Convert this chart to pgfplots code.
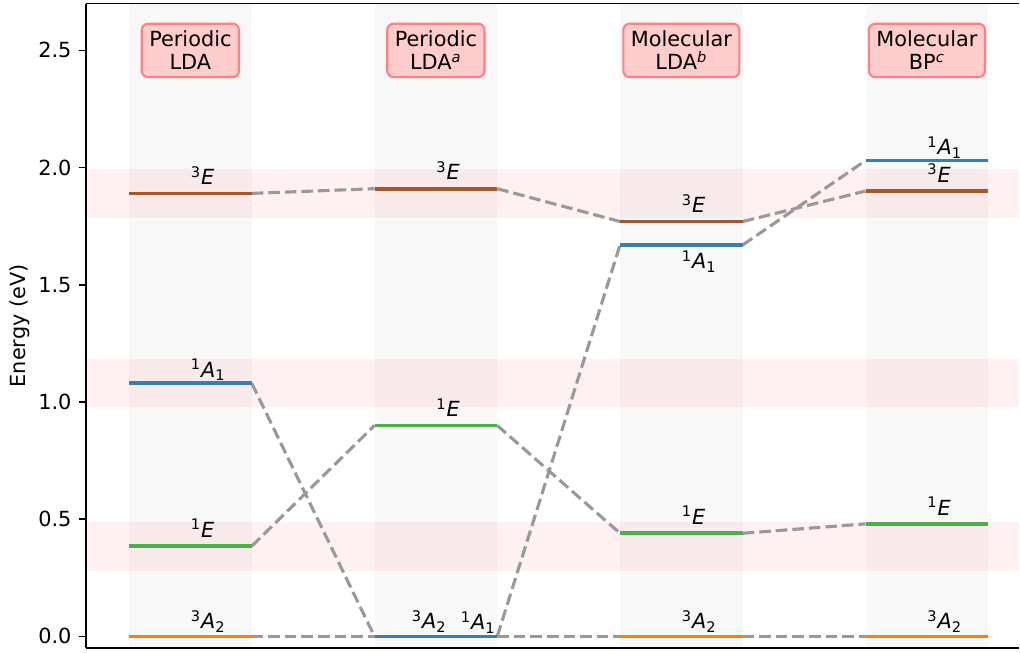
\documentclass[border=0pt]{standalone}
\usepackage{fontspec}
\setmainfont{DejaVu Sans}
\usepackage{pgfplots}
\pgfplotsset{compat=1.18}

\definecolor{cAone}{HTML}{377EB8}
\definecolor{cEthree}{HTML}{A65628}
\definecolor{cEone}{HTML}{4DAF4A}
\definecolor{cAtwo}{HTML}{FF7F00}
\definecolor{conn}{HTML}{999999}
\definecolor{boxfill}{HTML}{FFCCCC}
\definecolor{boxedge}{HTML}{FF8080}
\definecolor{colband}{HTML}{F8F8F8}

\newcommand{\tE}{\textsuperscript{3}\textit{E}}
\newcommand{\sE}{\textsuperscript{1}\textit{E}}
\newcommand{\tA}{\textsuperscript{3}\textit{A}\textsubscript{2}}
\newcommand{\sA}{\textsuperscript{1}\textit{A}\textsubscript{1}}

\begin{document}
\begin{tikzpicture}
\begin{axis}[
  scale only axis,
  width=447.8pt, height=309.4pt,
  xmin=-0.425, xmax=3.375,
  ymin=-0.05, ymax=2.7,
  axis on top,
  axis x line*=box, axis y line*=left,
  xtick=\empty,
  ytick={0,0.5,1,1.5,2,2.5},
  ytick pos=left,
  tick align=outside,
  major tick length=3.5pt,
  every tick/.style={black, line width=0.8pt},
  axis line style={line width=0.8pt},
  yticklabel style={/pgf/number format/.cd, fixed, fixed zerofill, precision=1, assume math mode=true},
  ticklabel style={font=\fontsize{10}{12}\selectfont},
  unbounded coords=jump,
  level/.style={line width=1.8pt, forget plot},
  link/.style={conn, line width=1.5pt, dash pattern=on 5.55pt off 2.4pt, forget plot},
]
% method columns
\addplot[fill=colband, draw=none] coordinates {(-0.25,-1) (0.25,-1) (0.25,3) (-0.25,3)};
\addplot[fill=colband, draw=none] coordinates {(0.75,-1) (1.25,-1) (1.25,3) (0.75,3)};
\addplot[fill=colband, draw=none] coordinates {(1.75,-1) (2.25,-1) (2.25,3) (1.75,3)};
\addplot[fill=colband, draw=none] coordinates {(2.75,-1) (3.25,-1) (3.25,3) (2.75,3)};
% reference bands
\addplot[fill=red, fill opacity=0.055, draw=none] coordinates {(-1,1.785) (4,1.785) (4,1.995) (-1,1.995)};
\addplot[fill=red, fill opacity=0.055, draw=none] coordinates {(-1,0.98) (4,0.98) (4,1.185) (-1,1.185)};
\addplot[fill=red, fill opacity=0.055, draw=none] coordinates {(-1,0.28) (4,0.28) (4,0.49) (-1,0.49)};

% connectors
\addplot[link] coordinates {(0.25,0) (0.75,0) (1,nan) (1.25,0) (1.75,0) (2,nan) (2.25,0) (2.75,0)};
\addplot[link] coordinates {(0.25,0.385) (0.75,0.90) (1,nan) (1.25,0.90) (1.75,0.44) (2,nan) (2.25,0.44) (2.75,0.48)};
\addplot[link] coordinates {(0.25,1.08) (0.75,0) (1,nan) (1.25,0) (1.75,1.67) (2,nan) (2.25,1.67) (2.75,2.03)};
\addplot[link] coordinates {(0.25,1.89) (0.75,1.91) (1,nan) (1.25,1.91) (1.75,1.77) (2,nan) (2.25,1.77) (2.75,1.90)};

% levels
\addplot[level, cAtwo] coordinates {(-0.25,0) (0.25,0) (0.5,nan) (0.75,0) (1.25,0) (1.5,nan) (1.75,0) (2.25,0) (2.5,nan) (2.75,0) (3.25,0)};
\addplot[level, cEone] coordinates {(-0.25,0.385) (0.25,0.385) (0.5,nan) (0.75,0.90) (1.25,0.90) (1.5,nan) (1.75,0.44) (2.25,0.44) (2.5,nan) (2.75,0.48) (3.25,0.48)};
\addplot[level, cAone] coordinates {(-0.25,1.08) (0.25,1.08) (0.5,nan) (0.75,0) (1.25,0) (1.5,nan) (1.75,1.67) (2.25,1.67) (2.5,nan) (2.75,2.03) (3.25,2.03)};
\addplot[level, cEthree] coordinates {(-0.25,1.89) (0.25,1.89) (0.5,nan) (0.75,1.91) (1.25,1.91) (1.5,nan) (1.75,1.77) (2.25,1.77) (2.5,nan) (2.75,1.90) (3.25,1.90)};

% level labels
\begin{scope}[every node/.style={inner sep=0pt, font=\fontsize{10}{12}\selectfont}]
\node[anchor=base west, yshift=4.2pt] at (axis cs:0,1.89) {\tE};
\node[anchor=base west, yshift=2.9pt] at (axis cs:0,1.08) {\sA};
\node[anchor=base west, yshift=4.2pt] at (axis cs:0,0.385) {\sE};
\node[anchor=base west, yshift=3.6pt] at (axis cs:0,0) {\tA};

\node[anchor=base west, yshift=4.2pt] at (axis cs:1,1.91) {\tE};
\node[anchor=base west, yshift=4.2pt] at (axis cs:1,0.90) {\sE};
\node[anchor=base west, yshift=3.6pt] at (axis cs:0.9,0) {\tA};
\node[anchor=base west, yshift=3.2pt] at (axis cs:1.1,0) {\sA};

\node[anchor=base west, yshift=4.2pt] at (axis cs:2,1.77) {\tE};
\node[anchor=north west, yshift=-2.6pt] at (axis cs:2,1.67) {\sA};
\node[anchor=base west, yshift=4.2pt] at (axis cs:2,0.44) {\sE};
\node[anchor=base west, yshift=3.6pt] at (axis cs:2,0) {\tA};

\node[anchor=base west, yshift=2.8pt] at (axis cs:3,2.03) {\sA};
\node[anchor=base west, yshift=4.2pt] at (axis cs:3,1.90) {\tE};
\node[anchor=base west, yshift=4.2pt] at (axis cs:3,0.48) {\sE};
\node[anchor=base west, yshift=3.6pt] at (axis cs:3,0) {\tA};
\end{scope}

% method boxes
\begin{scope}[every node/.style={fill=boxfill, draw=boxedge, line width=1pt, rounded corners=3pt,
    align=center, inner xsep=3.6pt, inner ysep=3.4pt, font=\fontsize{10}{11.2}\selectfont}]
\node at (axis cs:0,2.5) {Periodic\\LDA};
\node at (axis cs:1,2.5) {Periodic\\LDA\textsuperscript{\itshape a}};
\node at (axis cs:2,2.5) {Molecular\\LDA\textsuperscript{\itshape b}};
\node at (axis cs:3,2.5) {Molecular\\BP\textsuperscript{\itshape c}};
\end{scope}

\coordinate (ll) at (rel axis cs:0,0);
\coordinate (ur) at (rel axis cs:1,1);
\coordinate (ml) at (rel axis cs:0,0.5);
\end{axis}
\node[rotate=90, font=\fontsize{10}{12}\selectfont] at ([xshift=-31.7pt]ml) {Energy (eV)};
\pgfresetboundingbox
\path[use as bounding box] ([xshift=-41.3pt,yshift=-1.9pt]ll) rectangle ([xshift=0.5pt,yshift=1.7pt]ur);
\end{tikzpicture}
\end{document}
